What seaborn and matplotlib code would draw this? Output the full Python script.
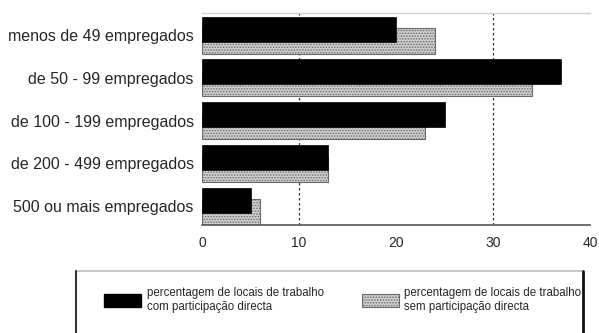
import numpy as np
import pandas as pd
import matplotlib
matplotlib.use("Agg")
import matplotlib.pyplot as plt
from matplotlib.patches import Patch
from matplotlib.lines import Line2D
import seaborn as sns

# data
categories = ["menos de 49 empregados", "de 50 - 99 empregados",
              "de 100 - 199 empregados", "de 200 - 499 empregados",
              "500 ou mais empregados"]
com_participacao = [20, 37, 25, 13, 5]
sem_participacao = [24, 34, 23, 13, 6]
x_ticks = [0, 10, 20, 30, 40]
grid_x = [10, 30]
label_com = "percentagem de locais de trabalho\ncom participação directa"
label_sem = "percentagem de locais de trabalho\nsem participação directa"

sns.set_style("white")
plt.rcParams["font.family"] = ["Liberation Sans", "DejaVu Sans"]
plt.rcParams["hatch.linewidth"] = 0.7

gray_face = "#cdcdcd"
gray_edge = "#6a6a6a"

pos = np.arange(len(categories))
df_com = pd.DataFrame({"pos": pos - 0.14, "valor": com_participacao})
df_sem = pd.DataFrame({"pos": pos + 0.14, "valor": sem_participacao})

fig = plt.figure(figsize=(5.99, 3.33), dpi=100)
ax = fig.add_axes([202 / 599, 1 - 225 / 333, 388 / 599, 212 / 333])

for gx in grid_x:
    ax.axvline(gx, color="#333333", lw=0.9, ls=(0, (2, 2)), zorder=0)

sns.barplot(data=df_sem, x="valor", y="pos", orient="y", native_scale=True,
            width=0.585, color=gray_face, edgecolor=gray_edge, linewidth=0.8,
            hatch="......", saturation=1, errorbar=None, ax=ax, zorder=2)
sns.barplot(data=df_com, x="valor", y="pos", orient="y", native_scale=True,
            width=0.585, color="black", edgecolor="black", linewidth=0.5,
            saturation=1, errorbar=None, ax=ax, zorder=3)

ax.set_xlim(0, 40)
ax.set_ylim(4.444, -0.515)
ax.set_xticks(x_ticks)
ax.set_xticklabels([str(t) for t in x_ticks], fontsize=10)
ax.set_yticks(pos)
ax.set_yticklabels(categories, fontsize=11.5)
ax.tick_params(axis="both", length=0)
ax.tick_params(axis="y", pad=6)
ax.tick_params(axis="x", pad=8)
ax.set_xlabel("")
ax.set_ylabel("")
for side in ["left", "right"]:
    ax.spines[side].set_visible(False)
ax.spines["top"].set_color("#d0d0d0")
ax.spines["top"].set_linewidth(1.0)
ax.spines["bottom"].set_color("#555555")
ax.spines["bottom"].set_linewidth(1.2)

# legend box (bottom cut off by the figure edge)
top = 1 - 271 / 333
fig.add_artist(Line2D([76 / 599, 583 / 599], [top, top], color="#bdbdbd", lw=1.2,
                      transform=fig.transFigure))
fig.add_artist(Line2D([76 / 599, 76 / 599], [top, -0.05], color="#333333", lw=1.5,
                      transform=fig.transFigure))
fig.add_artist(Line2D([583 / 599, 583 / 599], [top, -0.05], color="#111111", lw=2,
                      transform=fig.transFigure))

handles = [Patch(facecolor="black", edgecolor="black", label=label_com),
           Patch(facecolor=gray_face, edgecolor=gray_edge, hatch="......", lw=0.8,
                 label=label_sem)]
fig.legend(handles=handles, loc="upper left", ncol=2, frameon=False,
           bbox_to_anchor=(96 / 599, 1 - 279 / 333),
           prop={"family": "Liberation Sans", "size": 8.3},
           handlelength=3.2, handleheight=1.4, handletextpad=0.5,
           columnspacing=3.3, borderpad=0.2, labelspacing=0.2)

fig.savefig("out.png", dpi=100)
